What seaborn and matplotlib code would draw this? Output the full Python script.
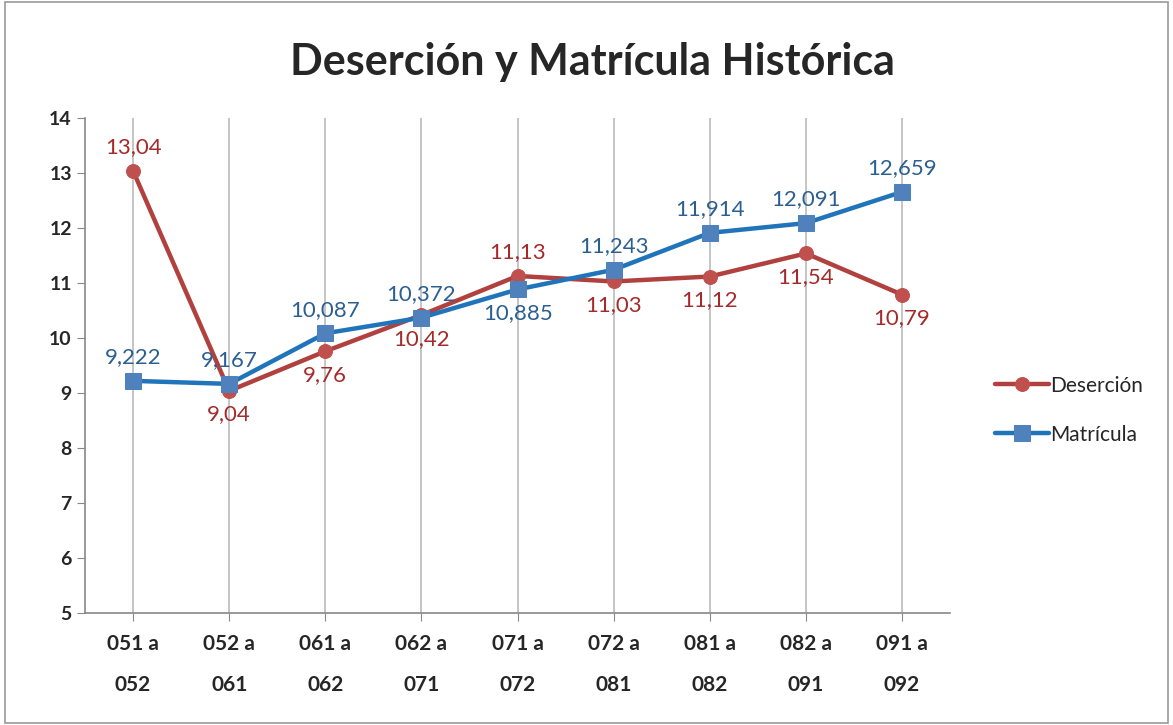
import matplotlib.pyplot as plt
import pandas as pd
import seaborn as sns

periodos = ["051 a\n052", "052 a\n061", "061 a\n062", "062 a\n071", "071 a\n072",
            "072 a\n081", "081 a\n082", "082 a\n091", "091 a\n092"]
desercion = [13.04, 9.04, 9.76, 10.42, 11.13, 11.03, 11.12, 11.54, 10.79]
matricula = [9.222, 9.167, 10.087, 10.372, 10.885, 11.243, 11.914, 12.091, 12.659]
etiq_des = ["13,04", "9,04", "9,76", "10,42", "11,13", "11,03", "11,12", "11,54", "10,79"]
etiq_mat = ["9,222", "9,167", "10,087", "10,372", "10,885", "11,243", "11,914", "12,091", "12,659"]
# posición de la etiqueta: 1 arriba, -1 abajo
pos_des = [1, -1, -1, -1, 1, -1, -1, -1, -1]
pos_mat = [1, 1, 1, 1, -1, 1, 1, 1, 1]

sns.set_style("white")
plt.rcParams["font.family"] = ["Lato", "DejaVu Sans"]

df = pd.DataFrame({
    "periodo": periodos * 2,
    "x": list(range(len(periodos))) * 2,
    "valor": desercion + matricula,
    "serie": ["Deserción"] * len(periodos) + ["Matrícula"] * len(periodos),
})

colores = {"Deserción": "#B0413E", "Matrícula": "#1F74BA"}
marcadores = {"Deserción": "o", "Matrícula": "s"}

fig = plt.figure(figsize=(11.73, 7.25), dpi=100)
ax = fig.add_axes([0.0725, 0.1545, 0.7375, 0.6825])

for serie in ["Deserción", "Matrícula"]:
    sub = df[df["serie"] == serie]
    sns.lineplot(data=sub, x="x", y="valor", ax=ax, color=colores[serie], lw=3.2,
                 marker=marcadores[serie], markersize=10 if serie == "Deserción" else 12,
                 markerfacecolor="#C0504D" if serie == "Deserción" else "#4F81BD",
                 markeredgecolor="#C0504D" if serie == "Deserción" else "#4F81BD",
                 label=serie)

for i in range(len(periodos)):
    ax.annotate(etiq_des[i], (i, desercion[i]), xytext=(0, 17 * pos_des[i]),
                textcoords="offset points", ha="center", va="center",
                fontsize=16, color="#A52A2A")
    ax.annotate(etiq_mat[i], (i, matricula[i]), xytext=(0, 17 * pos_mat[i]),
                textcoords="offset points", ha="center", va="center",
                fontsize=16, color="#2B5F91")

ax.set_xlim(-0.5, 8.5)
ax.set_ylim(5, 14)
ax.set_xticks(range(len(periodos)))
ax.set_xticklabels(periodos, fontsize=15, fontweight="bold", linespacing=2.3)
ax.set_yticks(range(5, 15))
ax.tick_params(axis="y", labelsize=14, length=6, color="#888888", direction="out", left=True)
ax.tick_params(axis="x", length=6, color="#888888", direction="out", bottom=True, pad=9)
for lbl in ax.get_yticklabels():
    lbl.set_fontweight("bold")
ax.set_xlabel("")
ax.set_ylabel("")
ax.grid(axis="x", color="#BBBBBB", lw=1.2)
ax.grid(axis="y", visible=False)
for s in ["top", "right"]:
    ax.spines[s].set_visible(False)
for s in ["left", "bottom"]:
    ax.spines[s].set_color("#888888")
    ax.spines[s].set_linewidth(1.2)

ax.legend(loc="center left", bbox_to_anchor=(1.03, 0.41), frameon=False,
          fontsize=15, handlelength=2.6, handletextpad=0.05, labelspacing=1.4)

fig.text(0.505, 0.915, "Deserción y Matrícula Histórica", ha="center", va="center",
         fontsize=31, fontweight="bold")

borde = plt.Rectangle((0.004, 0.003), 0.992, 0.994, transform=fig.transFigure,
                      fill=False, edgecolor="#999999", lw=1.2)
fig.patches.append(borde)

fig.savefig("out.png", dpi=100)
